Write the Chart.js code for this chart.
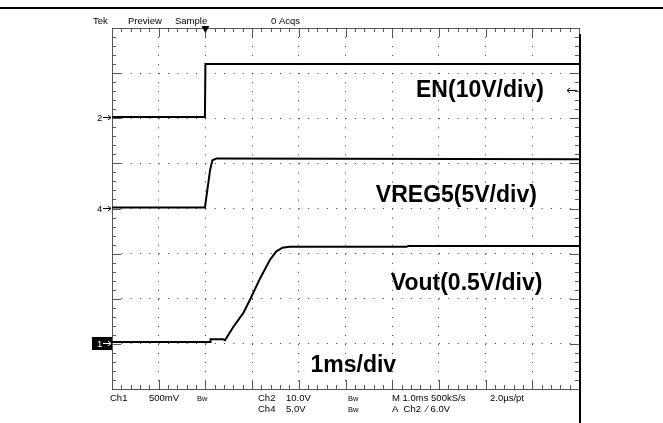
<!DOCTYPE html>
<html lang="en">

<head>
    <meta charset="UTF-8">
    <title>Arranque EN / VREG5 / Vout</title>
    <script src="https://cdn.jsdelivr.net/npm/chart.js@4.4.0/dist/chart.umd.min.js"></script>
    <style>
        body { margin: 0; background: #fff; }
    </style>
</head>

<body>
    <canvas id="chart" width="663" height="423"></canvas>
    <script>
        // tiempos en divisiones (1ms/div) y niveles en divisiones de pantalla (0 = abajo, 8 = arriba)
        const enTime = [0, 1.99, 2.0, 10];
        const enLevel = [6.03, 6.03, 7.2, 7.2];

        const vregTime = [0, 1.99, 2.10, 2.15, 2.24, 10];
        const vregLevel = [4.02, 4.02, 4.85, 5.07, 5.11, 5.09];

        const voutTime = [0, 2.10, 2.11, 2.38, 2.42, 2.60, 2.81, 2.96, 3.17, 3.38, 3.52, 3.65, 3.80, 6.30, 6.35, 10];
        const voutLevel = [1.04, 1.04, 1.10, 1.10, 1.08, 1.38, 1.68, 1.99, 2.45, 2.86, 3.05, 3.13, 3.15, 3.15, 3.17, 3.17];

        // marcadores de tierra de cada canal (en divisiones)
        const groundMarks = [
            { label: '2', level: 6.03, boxed: false },
            { label: '4', level: 4.02, boxed: false },
            { label: '1', level: 1.01, boxed: true }
        ];

        const traceLabels = [
            { text: 'EN(10V/div)', x: 6.51, y: 6.46 },
            { text: 'VREG5(5V/div)', x: 5.65, y: 4.15 },
            { text: 'Vout(0.5V/div)', x: 5.97, y: 2.20 },
            { text: '1ms/div', x: 4.25, y: 0.38 }
        ];

        const triggerTime = 2.0;
        const triggerLevel = 6.63;

        const topTexts = [
            { text: 'Tek', x: 93 }, { text: 'Preview', x: 128 },
            { text: 'Sample', x: 175 }, { text: '0 Acqs', x: 271 }
        ];
        const bottomRow1 = [
            { text: 'Ch1', x: 110 }, { text: '500mV', x: 149 }, { text: 'Bw', x: 197, small: true },
            { text: 'Ch2', x: 258 }, { text: '10.0V', x: 286 }, { text: 'Bw', x: 348, small: true },
            { text: 'M 1.0ms 500kS/s', x: 392 }, { text: '2.0\u00b5s/pt', x: 490 }
        ];
        const bottomRow2 = [
            { text: 'Ch4', x: 258 }, { text: '5.0V', x: 286 }, { text: 'Bw', x: 348, small: true },
            { text: 'A  Ch2  \u2215 6.0V', x: 392 }
        ];

        function toPoints(xs, ys) {
            return xs.map((x, i) => ({ x: x, y: ys[i] }));
        }

        // dibuja marco, marcas, textos y marcadores del osciloscopio
        const scopePlugin = {
            id: 'scope',
            beforeDatasetsDraw(chart) {
                const ctx = chart.ctx;
                const a = chart.chartArea;
                const sx = chart.scales.x, sy = chart.scales.y;
                ctx.save();
                ctx.strokeStyle = '#555';
                ctx.lineWidth = 1;
                ctx.beginPath();
                ctx.moveTo(a.left + 0.5, a.bottom + 0.5);
                ctx.lineTo(a.left + 0.5, a.top + 0.5);
                ctx.lineTo(a.right + 0.5, a.top + 0.5);
                ctx.moveTo(a.left, a.bottom + 0.5);
                ctx.lineTo(a.right, a.bottom + 0.5);
                // marcas en los bordes
                for (let i = 0; i <= 50; i++) {
                    const px = Math.round(sx.getPixelForValue(i / 5)) + 0.5;
                    const len = i % 5 === 0 ? 9 : 4;
                    ctx.moveTo(px, a.top); ctx.lineTo(px, a.top + len);
                    ctx.moveTo(px, a.bottom); ctx.lineTo(px, a.bottom - len);
                }
                for (let i = 0; i <= 40; i++) {
                    const py = Math.round(sy.getPixelForValue(i / 5)) + 0.5;
                    const len = i % 5 === 0 ? 9 : 4;
                    ctx.moveTo(a.left, py); ctx.lineTo(a.left + len, py);
                    ctx.moveTo(a.right, py); ctx.lineTo(a.right - len, py);
                }
                ctx.stroke();
                ctx.restore();
            },
            afterDraw(chart) {
                const ctx = chart.ctx;
                const a = chart.chartArea;
                const sx = chart.scales.x, sy = chart.scales.y;
                ctx.save();

                // bordes de la pagina
                ctx.strokeStyle = '#000';
                ctx.lineWidth = 2;
                ctx.beginPath();
                ctx.moveTo(0, 8); ctx.lineTo(663, 8);
                ctx.moveTo(a.right + 1, a.top + 6); ctx.lineTo(a.right + 1, 423);
                ctx.stroke();

                // etiquetas de las trazas
                ctx.fillStyle = '#000';
                ctx.font = 'bold 23px "Liberation Sans", Arial, sans-serif';
                ctx.textBaseline = 'alphabetic';
                traceLabels.forEach(l => {
                    ctx.fillText(l.text, sx.getPixelForValue(l.x), sy.getPixelForValue(l.y));
                });

                // textos de estado
                ctx.font = '9.5px "Liberation Sans", Arial, sans-serif';
                topTexts.forEach(t => ctx.fillText(t.text, t.x, 24));
                const drawRow = (row, y) => row.forEach(t => {
                    ctx.font = (t.small ? '7.5px' : '9.5px') + ' "Liberation Sans", Arial, sans-serif';
                    ctx.fillText(t.text, t.x, y);
                });
                drawRow(bottomRow1, 401);
                drawRow(bottomRow2, 412);

                // marcador de disparo (arriba)
                const tx = sx.getPixelForValue(triggerTime);
                ctx.beginPath();
                ctx.moveTo(tx - 4, a.top - 2);
                ctx.lineTo(tx + 4, a.top - 2);
                ctx.lineTo(tx, a.top + 5);
                ctx.closePath();
                ctx.fill();

                // nivel de disparo (derecha)
                const ty = Math.round(sy.getPixelForValue(triggerLevel)) + 0.5;
                ctx.lineWidth = 1;
                ctx.beginPath();
                ctx.moveTo(a.right - 2, ty); ctx.lineTo(a.right - 12, ty);
                ctx.moveTo(a.right - 9, ty - 2.5); ctx.lineTo(a.right - 12, ty); ctx.lineTo(a.right - 9, ty + 2.5);
                ctx.stroke();

                // marcadores de tierra (izquierda)
                groundMarks.forEach(g => {
                    const gy = Math.round(sy.getPixelForValue(g.level)) + 0.5;
                    const left = a.left;
                    if (g.boxed) {
                        ctx.fillStyle = '#000';
                        ctx.fillRect(left - 20, gy - 6.5, 20, 13);
                        ctx.fillStyle = '#fff';
                        ctx.strokeStyle = '#fff';
                    } else {
                        ctx.fillStyle = '#000';
                        ctx.strokeStyle = '#000';
                    }
                    ctx.font = '9.5px "Liberation Sans", Arial, sans-serif';
                    ctx.fillText(g.label, left - 15, gy + 3.5);
                    ctx.beginPath();
                    ctx.moveTo(left - 9, gy); ctx.lineTo(left - 1, gy);
                    ctx.moveTo(left - 4, gy - 2.5); ctx.lineTo(left - 1, gy); ctx.lineTo(left - 4, gy + 2.5);
                    ctx.stroke();
                });
                ctx.restore();
            }
        };

        const edgeless = (ctx) => {
            const v = ctx.tick ? ctx.tick.value : null;
            return (v === 0 || v === ctx.scale.max) ? 'rgba(0,0,0,0)' : '#333';
        };

        const traceStyle = {
            borderColor: '#000',
            borderWidth: 2,
            pointRadius: 0,
            fill: false,
            tension: 0
        };

        const ctx = document.getElementById('chart').getContext('2d');
        const scopeChart = new Chart(ctx, {
            type: 'line',
            data: {
                datasets: [
                    Object.assign({ label: 'EN', data: toPoints(enTime, enLevel) }, traceStyle),
                    Object.assign({ label: 'VREG5', data: toPoints(vregTime, vregLevel) }, traceStyle),
                    Object.assign({ label: 'Vout', data: toPoints(voutTime, voutLevel) }, traceStyle)
                ]
            },
            options: {
                responsive: false,
                animation: false,
                layout: { padding: { left: 112, top: 28, right: 84, bottom: 34 } },
                plugins: { legend: { display: false }, tooltip: { enabled: false } },
                scales: {
                    x: {
                        type: 'linear', min: 0, max: 10,
                        ticks: { display: false, stepSize: 1 },
                        grid: { color: edgeless, lineWidth: 1, drawTicks: false },
                        border: { display: false, dash: [1, 8.03] }
                    },
                    y: {
                        type: 'linear', min: 0, max: 8,
                        ticks: { display: false, stepSize: 1 },
                        grid: { color: edgeless, lineWidth: 1, drawTicks: false },
                        border: { display: false, dash: [1, 8.34] }
                    }
                }
            },
            plugins: [scopePlugin]
        });
    </script>
</body>

</html>
